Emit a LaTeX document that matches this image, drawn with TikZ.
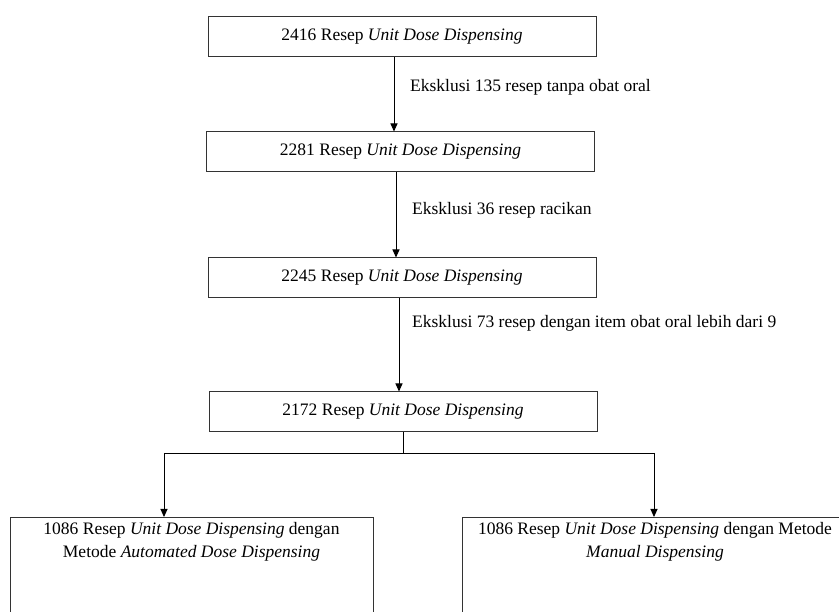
\documentclass[tikz,border=0pt]{standalone}
\usepackage{fontspec}
\setmainfont{Liberation Serif}
\usetikzlibrary{arrows.meta}

\begin{document}
\begin{tikzpicture}[x=1pt, y=-1pt, >={Stealth[length=8pt, width=7pt, inset=0pt]},
  font=\fontsize{17.5}{23}\selectfont,
  box/.style={draw=black!80, line width=1pt, minimum width=388pt, minimum height=40pt, inner sep=0pt},
  bigbox/.style={draw=black!80, line width=1pt, minimum height=140pt, anchor=north, inner sep=0pt},
  note/.style={anchor=west, inner sep=0pt},
  flow/.style={->, line width=0.9pt}]

  \useasboundingbox (0,0) rectangle (839,612);
  \clip (0,0) rectangle (839,612);

  % --- main chain of prescriptions ---
  \node[box] (b1) at (402, 37)  {2416 Resep \textit{Unit Dose Dispensing}};
  \node[box] (b2) at (400.5, 152) {2281 Resep \textit{Unit Dose Dispensing}};
  \node[box] (b3) at (402, 278) {2245 Resep \textit{Unit Dose Dispensing}};
  \node[box] (b4) at (403, 412) {2172 Resep \textit{Unit Dose Dispensing}};

  % exclusions, right of the arrows
  \node[note] (e1) at (410, 87)  {Eksklusi 135 resep tanpa obat oral};
  \node[note] (e2) at (412, 210) {Eksklusi 36 resep racikan};
  \node[note] (e3) at (412, 323) {Eksklusi 73 resep dengan item obat oral lebih dari 9};

  \draw[flow] ([xshift=-8pt]b1.south) -- ([xshift=-8pt]b1.south |- b2.north);
  \draw[flow] ([xshift=-4.5pt]b2.south) -- ([xshift=-4.5pt]b2.south |- b3.north);
  \draw[flow] ([xshift=-3pt]b3.south) -- ([xshift=-3pt]b3.south |- b4.north);

  % --- split into the two methods (boxes run off the page) ---
  \node[bigbox, minimum width=363pt] (m1) at (191.5, 517) {};
  \node[bigbox, minimum width=386pt] (m2) at (655, 517) {};
  \node[anchor=north, align=center, inner sep=5pt] (t1) at (m1.north)
    {1086 Resep \textit{Unit Dose Dispensing} dengan\\ Metode \textit{Automated Dose Dispensing}};
  \node[anchor=north, align=center, inner sep=5pt] (t2) at (m2.north)
    {1086 Resep \textit{Unit Dose Dispensing} dengan Metode\\ \textit{Manual Dispensing}};

  \coordinate (split) at (403, 453);
  \coordinate (jl) at (164, 453);
  \coordinate (jr) at (654, 453);
  \draw[line width=0.9pt] (b4.south) -- (split);
  \draw[line width=0.9pt] (jl) -- (jr);
  \draw[flow] (jl) -- (jl |- m1.north);
  \draw[flow] (jr) -- (jr |- m2.north);

\end{tikzpicture}
\end{document}
